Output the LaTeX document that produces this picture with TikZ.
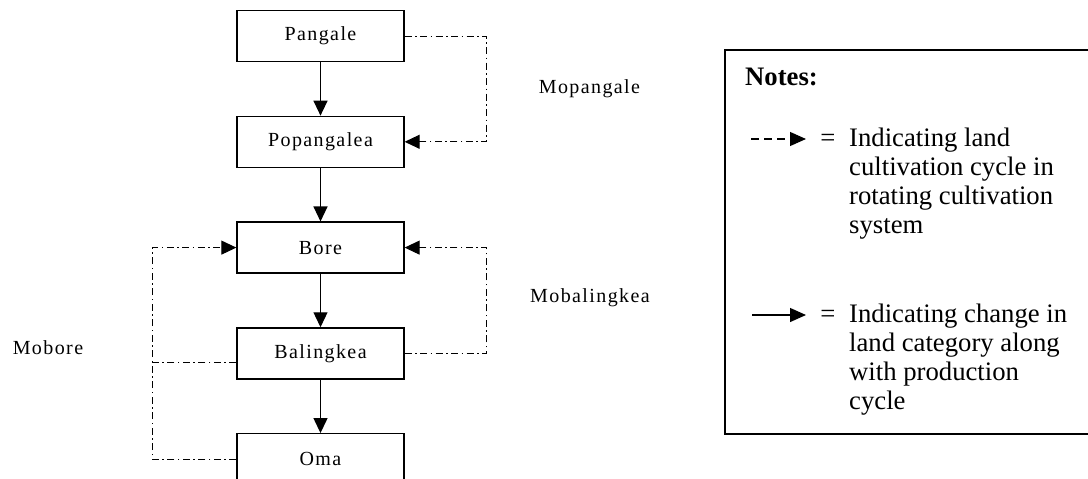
\documentclass[tikz,border=0pt]{standalone}
\usepackage{fontspec}
\setmainfont{Liberation Serif}
\newfontfamily\boxfont[LetterSpace=7]{Liberation Serif}
\usetikzlibrary{arrows.meta,positioning}

\begin{document}
\begin{tikzpicture}[x=1pt,y=-1pt,
  land/.style={draw,line width=1.3pt,minimum width=167pt,minimum height=51pt,
    inner sep=0pt,font=\boxfont\fontsize{20}{22}\selectfont},
  lbl/.style={anchor=base,inner sep=0pt,font=\boxfont\fontsize{20}{22}\selectfont},
  chg/.style={-{Triangle[length=15pt,width=14pt]},line width=1.3pt},
  cyc/.style={line width=1pt,dash pattern=on 7pt off 3.5pt on 1.5pt off 3.5pt},
  note/.style={anchor=north west,inner sep=0pt,align=left,
    font=\fontsize{26.7}{29}\selectfont},
  node distance=53.5pt]
  \useasboundingbox (0,0) rectangle (1088,479);
  % land categories
  \node[land] (pan) at (320.5,36) {Pangale};
  \node[land] (pop) [below=of pan] {Popangalea};
  \node[land] (bore) [below=of pop] {Bore};
  \node[land] (bal) [below=of bore] {Balingkea};
  \node[land] (oma) [below=of bal] {Oma};
  \draw[chg] (pan) -- (pop);
  \draw[chg] (pop) -- (bore);
  \draw[chg] (bore) -- (bal);
  \draw[chg] (bal) -- (oma);
  % cultivation cycles
  \draw[cyc,-{Triangle[length=15pt,width=14pt]}] (pan.east) -- ++(82,0) |- (pop.east);
  \draw[cyc,-{Triangle[length=15pt,width=14pt]}] (bal.east) -- ++(82,0) |- (bore.east);
  \draw[cyc] ([yshift=-9pt]bal.west) -- ++(-84,0);
  \draw[cyc,-{Triangle[length=15pt,width=14pt]}] (oma.west) -- ++(-84,0) |- (bore.west);
  \node[lbl] (mopan) at (589.5,93) {Mopangale};
  \node[lbl] (mobal) at (590,302) {Mobalingkea};
  \node[lbl] (mobore) at (48,354) {Mobore};
  % notes
  \draw[line width=1.4pt] (725,50) rectangle (1095,434);
  \node[anchor=base west,inner sep=0pt,font=\bfseries\fontsize{26.7}{29}\selectfont] (notes) at (745,85) {Notes:};
  \coordinate (d1) at (751,139);
  \coordinate (d2) at (806,139);
  \draw[line width=1.2pt,dash pattern=on 7.5pt off 5.5pt,-{Triangle[length=16pt,width=14pt]}] (d1) -- (d2);
  \node[anchor=base,inner sep=0pt,font=\fontsize{26.7}{29}\selectfont] (eq1) at (828,146) {=};
  \node[note] (txt1) at (849,128) {Indicating land\\cultivation cycle in\\rotating cultivation\\system};
  \coordinate (s1) at (752,315);
  \coordinate (s2) at (806,315);
  \draw[line width=1.3pt,-{Triangle[length=16pt,width=14pt]}] (s1) -- (s2);
  \node[anchor=base,inner sep=0pt,font=\fontsize{26.7}{29}\selectfont] (eq2) at (828,322) {=};
  \node[note] (txt2) at (849,304) {Indicating change in\\land category along\\with production\\cycle};
\end{tikzpicture}
\end{document}
